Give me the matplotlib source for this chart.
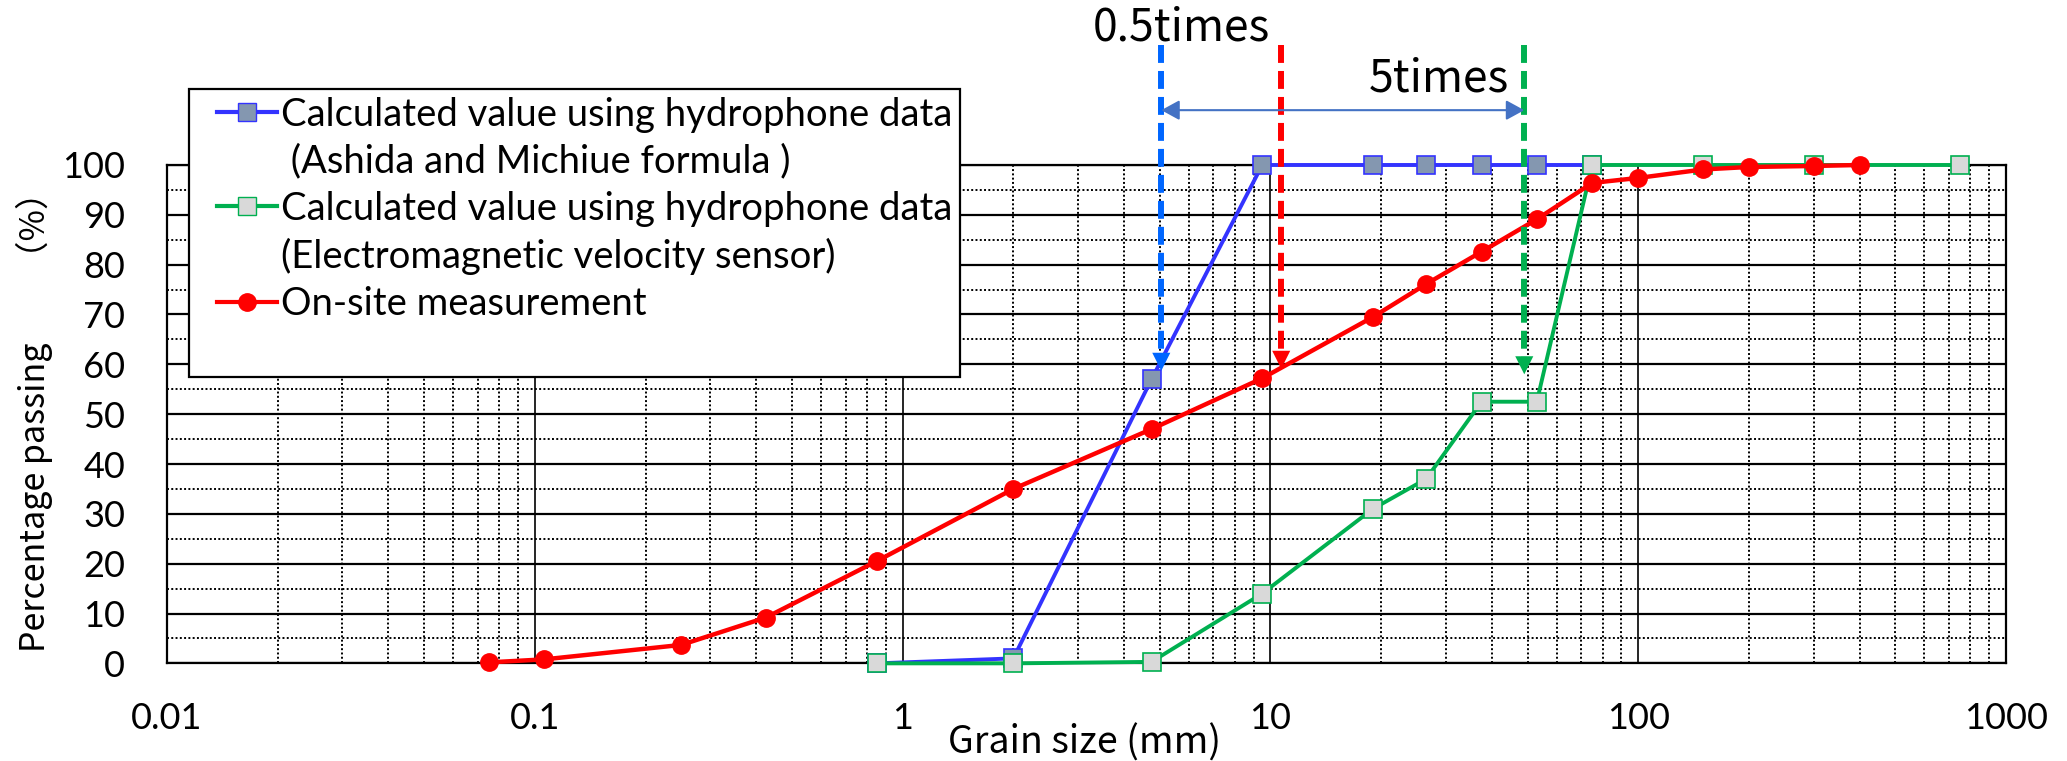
import numpy as np
import matplotlib
matplotlib.use('Agg')
from matplotlib import pyplot as plt
from matplotlib.lines import Line2D
from matplotlib.legend_handler import HandlerLine2D
from matplotlib.ticker import FixedLocator, LogLocator, NullFormatter

# grain size (mm) / percentage passing (%)
blue_x = [0.85, 2.0, 4.75, 9.5, 19, 26.5, 37.5, 53, 75]
blue_y = [0, 1.0, 57, 100, 100, 100, 100, 100, 100]

green_x = [0.85, 2.0, 4.75, 9.5, 19, 26.5, 37.5, 53, 75, 150, 300, 750]
green_y = [0, 0, 0.3, 14, 31, 37, 52.5, 52.5, 100, 100, 100, 100]

red_x = [0.075, 0.106, 0.25, 0.425, 0.85, 2.0, 4.75, 9.5, 19, 26.5, 37.5, 53,
         75, 100, 150, 200, 300, 400]
red_y = [0.2, 0.8, 3.7, 9.2, 20.5, 35, 47, 57.2, 69.5, 76.1, 82.6, 89.1,
         96.4, 97.4, 99.1, 99.6, 99.8, 100]

labels = ['Calculated value using hydrophone data',
          ' (Ashida and Michiue formula )',
          'Calculated value using hydrophone data',
          '(Electromagnetic velocity sensor)',
          'On-site measurement']

# D50 markers (blue, red, green) and arrow tips
d_x = [5.05, 10.7, 49]
d_tip = [58.7, 59.1, 58.0]
d_col = ['#0066FF', '#FF0000', '#00B050']

xticks = [0.01, 0.1, 1, 10, 100, 1000]
xticklabels = ['0.01', '0.1', '1', '10', '100', '1000']

TF = 'Lato'
JF = ['Noto Sans CJK JP', 'DejaVu Sans']

fig = plt.figure(figsize=(20.67, 7.61), dpi=100)
ax = fig.add_axes([0.0808, 0.1283, 0.8897, 0.6549])
ax.set_xscale('log')
ax.set_xlim(0.01, 1000)
ax.set_ylim(0, 100)

ax.set_xticks(xticks)
ax.set_xticklabels(xticklabels, family=TF, fontsize=26)
ax.xaxis.set_minor_locator(LogLocator(base=10, subs=np.arange(2, 10)))
ax.xaxis.set_minor_formatter(NullFormatter())
ax.set_yticks(range(0, 101, 10))
ax.set_yticklabels([str(v) for v in range(0, 101, 10)], family=TF, fontsize=26)
ax.yaxis.set_minor_locator(FixedLocator(range(5, 100, 10)))
ax.tick_params(which='both', length=0)
ax.tick_params(axis='x', pad=28)
ax.tick_params(axis='y', pad=30)

ax.grid(which='major', axis='y', color='black', lw=1.6)
ax.grid(which='major', axis='x', color='black', lw=1.2)
ax.grid(which='minor', color='black', lw=1.4, linestyle=(0, (1, 1.2)))
ax.set_axisbelow(True)
for s in ax.spines.values():
    s.set_linewidth(1.6)

ax.plot(blue_x, blue_y, color='#3333FF', lw=2.8, marker='s', ms=13,
        mfc='#8497B0', mec='#3333FF', mew=1.2, clip_on=False, zorder=3)
ax.plot(green_x, green_y, color='#00B050', lw=2.8, marker='s', ms=13,
        mfc='#D9D9D9', mec='#00B050', mew=1.2, clip_on=False, zorder=4)
ax.plot(red_x, red_y, color='#FF0000', lw=3.2, marker='o', ms=12.5,
        mfc='#FF0000', mec='#FF0000', clip_on=False, zorder=5)

# dashed arrows
for x, tip, c in zip(d_x, d_tip, d_col):
    ax.plot([x, x], [124, tip + 3], color=c, lw=4.3, ls=(0, (3, 1.35)),
            clip_on=False, zorder=6)
    ax.annotate('', xy=(x, tip), xytext=(x, tip + 3.8),
                arrowprops=dict(arrowstyle='-|>,head_length=1.3,head_width=0.65',
                                color=c, lw=0, shrinkA=0, shrinkB=0),
                annotation_clip=False, zorder=6)

ax.annotate('', xy=(d_x[2], 111), xytext=(d_x[0], 111),
            arrowprops=dict(arrowstyle='<|-|>,head_length=1.1,head_width=0.6',
                            color='#4472C4', lw=1.5, shrinkA=0, shrinkB=0),
            annotation_clip=False, zorder=7)

fig.text(1181 / 2067, 1 - 27.5 / 761, '0.5times', family=JF, fontsize=32,
         ha='center', va='center')
fig.text(1439 / 2067, 1 - 79 / 761, '5times', family=JF, fontsize=32,
         ha='center', va='center')

fig.text(34 / 2067, 1 - 413 / 761, 'Percentage passing\u3000\u3000（%）',
         family=JF, fontsize=24.5, rotation=90, ha='center', va='center')
fig.text(1085 / 2067, 1 - 743 / 761, 'Grain size (mm)', family=JF, fontsize=27,
         ha='center', va='center')

# legend
h_blue = Line2D([], [], color='#3333FF', lw=3, marker='s', ms=13,
                mfc='#8497B0', mec='#3333FF')
h_green = Line2D([], [], color='#00B050', lw=3, marker='s', ms=13,
                 mfc='#D9D9D9', mec='#00B050')
h_red = Line2D([], [], color='#FF0000', lw=3, marker='o', ms=12.5,
               mfc='#FF0000', mec='#FF0000')
h_none = Line2D([], [], ls='none', marker='none')
handles = [h_blue, h_none, h_green, h_none, h_red, h_none]
leg = fig.legend(handles, labels + [' '], loc='upper left',
                 bbox_to_anchor=(189 / 2067, 1 - 89 / 761),
                 prop=dict(family=TF, size=27.5), frameon=True, fancybox=False,
                 edgecolor='black', framealpha=1, borderaxespad=0,
                 borderpad=0.2, labelspacing=0.29, handlelength=2.1,
                 handletextpad=0.1,
                 handler_map={Line2D: HandlerLine2D(xpad=0.52)})
leg.get_frame().set_linewidth(1.6)
leg.set_zorder(10)

fig.savefig('out.png', dpi=100)
